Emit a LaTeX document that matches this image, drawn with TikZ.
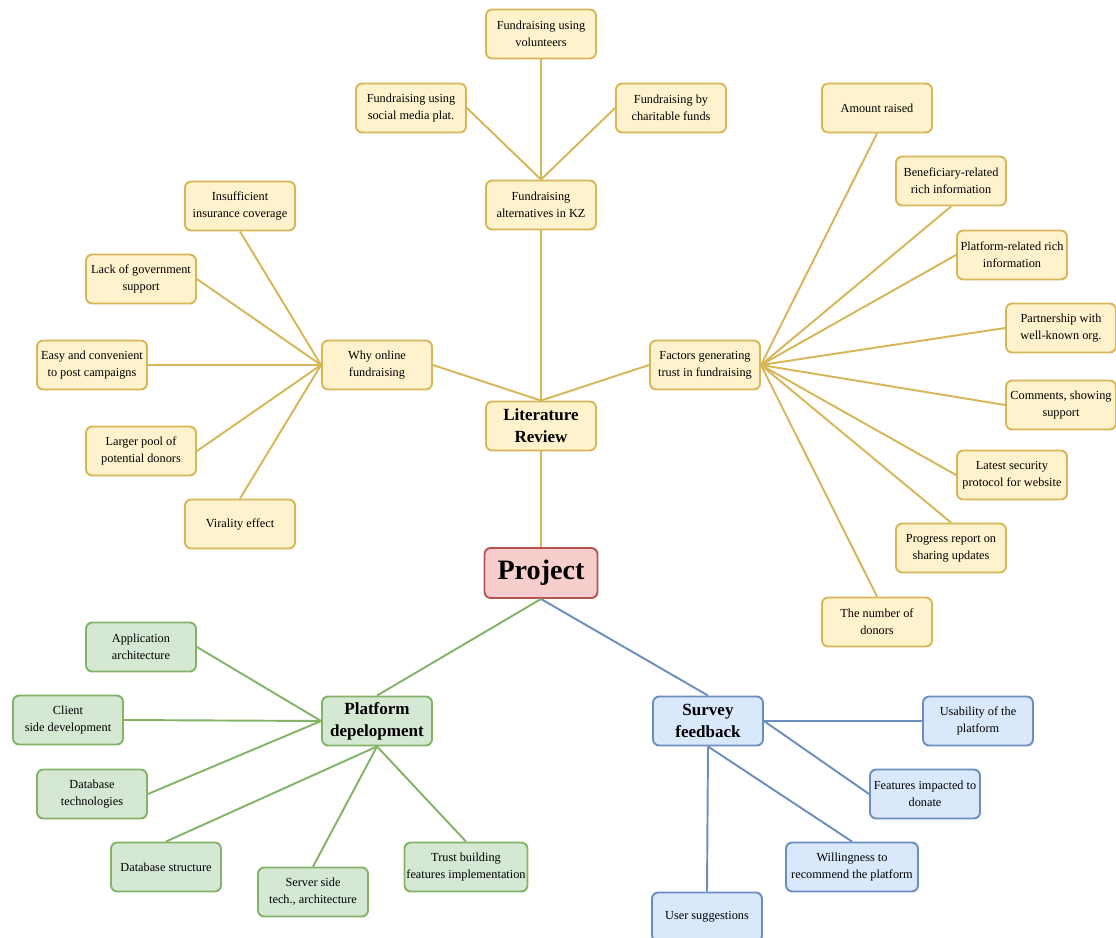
\documentclass[tikz,border=0pt]{standalone}
\usepackage{fontspec}
\setmainfont{Liberation Serif}
\definecolor{litfill}{HTML}{FFF2CC}
\definecolor{litline}{HTML}{D6B656}
\definecolor{devfill}{HTML}{D5E8D4}
\definecolor{devline}{HTML}{82B366}
\definecolor{surveyfill}{HTML}{DAE8FC}
\definecolor{surveyline}{HTML}{6C8EBF}
\definecolor{projfill}{HTML}{F8CECC}
\definecolor{projline}{HTML}{B85450}

\begin{document}
\begin{tikzpicture}[
  x=0.02cm, y=-0.02cm,
  card/.style={
    rounded corners=3.5pt,
    line width=1.1pt,
    align=center,
    font=\fontsize{7pt}{9.6pt}\selectfont,
    minimum width=2.2cm,
    minimum height=0.98cm,
    inner xsep=1pt,
    inner ysep=2pt
  },
  litcard/.style={card, draw=litline, fill=litfill},
  devcard/.style={card, draw=devline, fill=devfill},
  surveycard/.style={card, draw=surveyline, fill=surveyfill},
  hub/.style={font=\bfseries\fontsize{9.7pt}{12.4pt}\selectfont},
  litlink/.style={draw=litline, line width=1.1pt},
  devlink/.style={draw=devline, line width=1.1pt},
  surveylink/.style={draw=surveyline, line width=1.1pt}
]
\useasboundingbox (0,0) rectangle (1116,937);

% literature review branch
\node[litcard] (vol) at (541,34) {Fundraising using\\volunteers};
\node[litcard] (social) at (411,108) {Fundraising using\\social media plat.};
\node[litcard] (charity) at (671,108) {Fundraising by\\charitable funds};
\node[litcard] (alt) at (541,205) {Fundraising\\alternatives in KZ};

\node[litcard] (insur) at (240,206) {Insufficient\\insurance coverage};
\node[litcard] (govt) at (141,279) {Lack of government\\support};
\node[litcard] (easy) at (92,365) {Easy and convenient\\to post campaigns};
\node[litcard] (pool) at (141,451) {Larger pool of\\potential donors};
\node[litcard] (viral) at (240,524) {Virality effect};
\node[litcard] (why) at (377,365) {Why online\\fundraising};

\node[litcard,hub] (lit) at (541,426) {Literature\\Review};
\node[litcard] (factors) at (705,365) {Factors generating\\trust in fundraising};

\node[litcard] (amount) at (877,108) {Amount raised};
\node[litcard] (benef) at (951,181) {Beneficiary-related\\rich information};
\node[litcard] (platinfo) at (1012,255) {Platform-related rich\\information};
\node[litcard] (partner) at (1061,328) {Partnership with\\well-known org.};
\node[litcard] (comments) at (1061,405) {Comments, showing\\support};
\node[litcard] (security) at (1012,475) {Latest security\\protocol for website};
\node[litcard] (progress) at (951,548) {Progress report on\\sharing updates};
\node[litcard] (donors) at (877,622) {The number of\\donors};

% root
\node[card, draw=projline, fill=projfill, minimum width=2.26cm, minimum height=1.0cm,
  font=\bfseries\fontsize{16pt}{18pt}\selectfont] (project) at (541,573) {Project};

% platform branch
\node[devcard,hub] (platform) at (377,721) {Platform\\depelopment};
\node[devcard] (app) at (141,647) {Application\\architecture};
\node[devcard] (client) at (68,720) {Client\\side development};
\node[devcard] (dbtech) at (92,794) {Database\\technologies};
\node[devcard] (dbstruct) at (166,867) {Database structure};
\node[devcard] (server) at (313,892) {Server side\\tech., architecture};
\node[devcard, minimum width=2.46cm] (trustfeat) at (466,867) {Trust building\\features implementation};

% survey branch
\node[surveycard,hub] (survey) at (708,721) {Survey\\feedback};
\node[surveycard] (usab) at (978,721) {Usability of the\\platform};
\node[surveycard] (featdon) at (925,794) {Features impacted to\\donate};
\node[surveycard, minimum width=2.64cm] (recommend) at (852,867) {Willingness to\\recommend the platform};
\node[surveycard] (usersug) at (707,917) {User suggestions};

% connectors
\draw[litlink] (vol.south) -- (alt.north);
\draw[litlink] (social.east) -- (alt.north);
\draw[litlink] (charity.west) -- (alt.north);
\draw[litlink] (alt.south) -- (lit.north);

\draw[litlink] (insur.south) -- (why.west);
\draw[litlink] (govt.east) -- (why.west);
\draw[litlink] (easy.east) -- (why.west);
\draw[litlink] (pool.east) -- (why.west);
\draw[litlink] (viral.north) -- (why.west);
\draw[litlink] (why.east) -- (lit.north);
\draw[litlink] (factors.west) -- (lit.north);

\draw[litlink] (amount.south) -- (factors.east);
\draw[litlink] (benef.south) -- (factors.east);
\draw[litlink] (platinfo.west) -- (factors.east);
\draw[litlink] (partner.west) -- (factors.east);
\draw[litlink] (comments.west) -- (factors.east);
\draw[litlink] (security.west) -- (factors.east);
\draw[litlink] (progress.north) -- (factors.east);
\draw[litlink] (donors.north) -- (factors.east);

\draw[litlink] (lit.south) -- (project.north);
\draw[devlink] (project.south) -- (platform.north);
\draw[surveylink] (project.south) -- (survey.north);

\draw[devlink] (app.east) -- (platform.west);
\draw[devlink] (client.east) -- (platform.west);
\draw[devlink] (dbtech.east) -- (platform.west);
\draw[devlink] (dbstruct.north) -- (platform.south);
\draw[devlink] (server.north) -- (platform.south);
\draw[devlink] (trustfeat.north) -- (platform.south);

\draw[surveylink] (survey.east) -- (usab.west);
\draw[surveylink] (survey.east) -- (featdon.west);
\draw[surveylink] (survey.south) -- (recommend.north);
\draw[surveylink] (survey.south) -- (usersug.north);

\end{tikzpicture}
\end{document}
